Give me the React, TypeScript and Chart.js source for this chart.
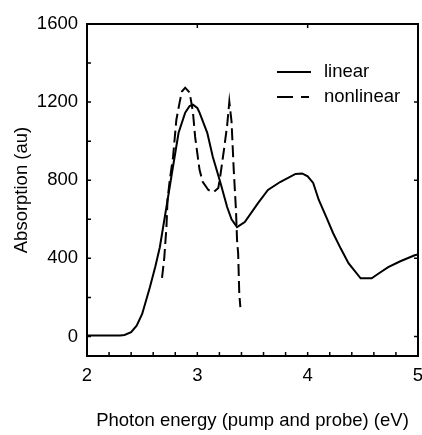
import React, { useEffect, useRef } from "react";
import { Chart, registerables } from "chart.js";

Chart.register(...registerables);

// ---- data ----
const linearX = [2.0, 2.3, 2.34, 2.4, 2.45, 2.5, 2.57, 2.62, 2.66, 2.72, 2.77, 2.83, 2.89, 2.93, 2.96, 3.0, 3.02, 3.09, 3.14, 3.21, 3.27, 3.31, 3.36, 3.43, 3.55, 3.64, 3.75, 3.89, 3.95, 4.0, 4.05, 4.1, 4.17, 4.23, 4.3, 4.37, 4.48, 4.58, 4.65, 4.73, 4.84, 4.97, 5.0];
const linearY = [5, 5, 8, 22, 55, 115, 252, 360, 457, 663, 837, 1043, 1146, 1180, 1187, 1170, 1146, 1043, 920, 786, 663, 600, 560, 586, 683, 750, 791, 832, 835, 820, 786, 700, 610, 530, 450, 375, 298, 298, 325, 355, 385, 416, 420];

const nonlinearX = [2.68, 2.7, 2.72, 2.73, 2.75, 2.78, 2.81, 2.84, 2.86, 2.89, 2.93, 2.96, 2.98, 3.02, 3.05, 3.1, 3.15, 3.19, 3.21, 3.24, 3.27, 3.29, 3.31, 3.33, 3.35, 3.36, 3.37, 3.38, 3.39];
const nonlinearY = [300, 400, 560, 700, 800, 920, 1110, 1200, 1254, 1274, 1249, 1150, 1022, 853, 790, 750, 740, 760, 830, 950, 1080, 1202, 1100, 853, 650, 493, 426, 221, 150];

const seriesLabels = ["linear", "nonlinear"];
const xTickLabels = [2, 3, 4, 5];
const yTickLabels = [0, 400, 800, 1200, 1600];
const xMinorTicks = [2.2, 2.4, 2.6, 2.8, 3.0, 3.2, 3.4, 3.6, 3.8, 4.0, 4.2, 4.4, 4.6, 4.8];
const xTopTicks = [3, 4];
const yLeftTicks = [0, 200, 400, 600, 800, 1000, 1200, 1400];
const yRightTicks = [0, 400, 800, 1200];

const FONT_FAMILY = '"Liberation Sans", Arial, sans-serif';
const FONT_SIZE = 18.5;

const framePlugin = {
  id: "frameAndLegend",
  afterDatasetsDraw(chart: any) {
    const { ctx, chartArea: a, scales } = chart;
    const xs = scales.x;
    const ys = scales.y;
    ctx.save();
    ctx.strokeStyle = "#000";
    ctx.lineWidth = 2;
    ctx.setLineDash([]);
    ctx.strokeRect(a.left, a.top, a.right - a.left, a.bottom - a.top);

    ctx.lineWidth = 1.5;
    ctx.beginPath();
    const tl = 4;
    for (const v of yLeftTicks) {
      const p = ys.getPixelForValue(v);
      ctx.moveTo(a.left, p);
      ctx.lineTo(a.left + tl, p);
    }
    for (const v of yRightTicks) {
      const p = ys.getPixelForValue(v);
      ctx.moveTo(a.right, p);
      ctx.lineTo(a.right - tl, p);
    }
    for (const v of xMinorTicks) {
      const p = xs.getPixelForValue(v);
      ctx.moveTo(p, a.bottom);
      ctx.lineTo(p, a.bottom - tl);
    }
    for (const v of xTopTicks) {
      const p = xs.getPixelForValue(v);
      ctx.moveTo(p, a.top);
      ctx.lineTo(p, a.top + tl);
    }
    ctx.stroke();

    // legend
    const ds = chart.data.datasets;
    const rows = [72, 97];
    ctx.font = `${FONT_SIZE}px ${FONT_FAMILY}`;
    ctx.fillStyle = "#000";
    ctx.textBaseline = "middle";
    ctx.textAlign = "left";
    ds.forEach((d: any, i: number) => {
      const y = rows[i];
      ctx.lineWidth = 2;
      ctx.setLineDash(i === 0 ? [] : [16, 8, 8, 8]);
      ctx.beginPath();
      ctx.moveTo(277, y);
      ctx.lineTo(311, y);
      ctx.stroke();
      ctx.setLineDash([]);
      ctx.fillText(d.label, 324, y);
    });
    ctx.restore();
  },
};

export default function App() {
  const ref = useRef<HTMLCanvasElement>(null);

  useEffect(() => {
    if (!ref.current) return;
    const chart = new Chart(ref.current, {
      type: "line",
      data: {
        datasets: [
          {
            label: seriesLabels[0],
            data: linearX.map((x, i) => ({ x, y: linearY[i] })),
            borderColor: "#000",
            borderWidth: 2,
            pointRadius: 0,
            tension: 0,
            fill: false,
          },
          {
            label: seriesLabels[1],
            data: nonlinearX.map((x, i) => ({ x, y: nonlinearY[i] })),
            borderColor: "#000",
            borderWidth: 2,
            borderDash: [12, 5],
            pointRadius: 0,
            tension: 0,
            fill: false,
          },
        ],
      },
      options: {
        animation: false,
        responsive: false,
        layout: { padding: { top: 24, right: 4, left: 0, bottom: 0 } },
        plugins: { legend: { display: false }, tooltip: { enabled: false } },
        scales: {
          x: {
            type: "linear",
            min: 2,
            max: 5,
            grid: { display: false, drawTicks: false },
            border: { display: false },
            afterBuildTicks: (s: any) => {
              s.ticks = xTickLabels.map((v) => ({ value: v }));
            },
            afterFit: (s: any) => {
              s.height = 79;
              s.paddingLeft = 0;
              s.paddingRight = 0;
            },
            ticks: {
              color: "#000",
              padding: 9,
              maxRotation: 0,
              font: { family: FONT_FAMILY, size: FONT_SIZE },
              callback: (v: any) => String(v),
            },
            title: {
              display: true,
              text: "Photon energy (pump and probe) (eV)",
              color: "#000",
              padding: { top: 0, bottom: 3 },
              font: { family: FONT_FAMILY, size: FONT_SIZE },
            },
          },
          y: {
            type: "linear",
            min: -100,
            max: 1600,
            grid: { display: false, drawTicks: false },
            border: { display: false },
            afterBuildTicks: (s: any) => {
              s.ticks = yTickLabels.map((v) => ({ value: v }));
            },
            afterFit: (s: any) => {
              s.width = 87;
              s.paddingTop = 0;
              s.paddingBottom = 0;
            },
            ticks: {
              color: "#000",
              padding: 9,
              font: { family: FONT_FAMILY, size: FONT_SIZE },
              callback: (v: any) => String(v),
            },
            title: {
              display: true,
              text: "Absorption (au)",
              color: "#000",
              padding: { top: 11, bottom: 0 },
              font: { family: FONT_FAMILY, size: FONT_SIZE },
            },
          },
        },
      },
      plugins: [framePlugin],
    } as any);
    return () => chart.destroy();
  }, []);

  return (
    <div style={{ position: "fixed", left: 0, top: 0, width: 422, height: 435, background: "#fff" }}>
      <canvas ref={ref} width={422} height={435} style={{ display: "block", width: 422, height: 435 }} />
    </div>
  );
}
